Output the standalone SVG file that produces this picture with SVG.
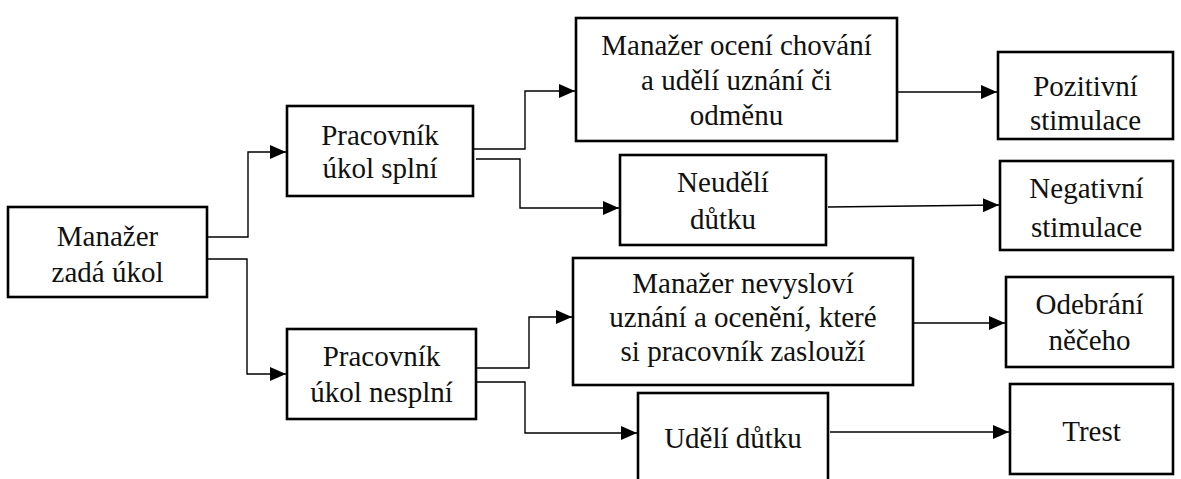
<svg xmlns="http://www.w3.org/2000/svg" width="1181" height="479" viewBox="0 0 1181 479">
<style>
.box{fill:#fff;stroke:#000;stroke-width:2.6}
.t{font-family:'Liberation Serif','Times New Roman',serif;font-size:29px;text-anchor:middle;fill:#111}
.c{fill:none;stroke:#000;stroke-width:1.4}
</style>
<defs>
<marker id="ah" markerUnits="userSpaceOnUse" markerWidth="17" markerHeight="14" refX="16" refY="7" orient="auto">
<path d="M0,0 L16,7 L0,14 z" fill="#000"/>
</marker>
</defs>
<rect width="1181" height="479" fill="#fff"/>
<g id="connectors">
<polyline class="c" points="207,237 248,237 248,152 286,152" marker-end="url(#ah)"/>
<polyline class="c" points="207,259 247,259 247,374 286,374" marker-end="url(#ah)"/>
<polyline class="c" points="474,149 525,149 525,91 575,91" marker-end="url(#ah)"/>
<polyline class="c" points="476,159 520,159 520,208 619,208" marker-end="url(#ah)"/>
<polyline class="c" points="477,368 529,368 529,317 572,317" marker-end="url(#ah)"/>
<polyline class="c" points="477,382 525,382 525,433 637,433" marker-end="url(#ah)"/>
<line class="c" x1="898" y1="92" x2="997" y2="92" marker-end="url(#ah)"/>
<line class="c" x1="828" y1="207" x2="999" y2="205" marker-end="url(#ah)"/>
<line class="c" x1="914" y1="323" x2="1005" y2="323" marker-end="url(#ah)"/>
<line class="c" x1="830" y1="432" x2="1009" y2="432" marker-end="url(#ah)"/>
</g>
<g id="n1"><rect class="box" x="8" y="207" width="199" height="90"/><text class="t" x="107.5" y="246">Manažer</text><text class="t" x="107.5" y="282">zadá úkol</text></g>
<g id="n2"><rect class="box" x="287" y="106" width="186" height="90"/><text class="t" x="380" y="145">Pracovník</text><text class="t" x="380" y="178">úkol splní</text></g>
<g id="n3"><rect class="box" x="576" y="18" width="321" height="123"/><text class="t" x="736.5" y="55">Manažer ocení chování</text><text class="t" x="736.5" y="90">a udělí uznání či</text><text class="t" x="736.5" y="125">odměnu</text></g>
<g id="n4"><rect class="box" x="998" y="52" width="175" height="87"/><text class="t" x="1085.5" y="96">Pozitivní</text><text class="t" x="1085.5" y="130">stimulace</text></g>
<g id="n5"><rect class="box" x="620" y="155" width="206" height="90"/><text class="t" x="723" y="192">Neudělí</text><text class="t" x="723" y="229">důtku</text></g>
<g id="n6"><rect class="box" x="1000" y="161" width="173" height="89"/><text class="t" x="1086.5" y="198">Negativní</text><text class="t" x="1086.5" y="237">stimulace</text></g>
<g id="n7"><rect class="box" x="573" y="258" width="340" height="127"/><text class="t" x="743" y="293">Manažer nevysloví</text><text class="t" x="743" y="327">uznání a ocenění, které</text><text class="t" x="743" y="361">si pracovník zaslouží</text></g>
<g id="n8"><rect class="box" x="1006" y="277" width="167" height="90"/><text class="t" x="1089.5" y="314">Odebrání</text><text class="t" x="1089.5" y="350">něčeho</text></g>
<g id="n9"><rect class="box" x="287" y="329" width="189" height="90"/><text class="t" x="381.5" y="366">Pracovník</text><text class="t" x="381.5" y="402">úkol nesplní</text></g>
<g id="n10"><rect class="box" x="638" y="393" width="190" height="95"/><text class="t" x="733" y="448">Udělí důtku</text></g>
<g id="n11"><rect class="box" x="1010" y="384" width="163" height="90"/><text class="t" x="1091.5" y="441">Trest</text></g>
</svg>
